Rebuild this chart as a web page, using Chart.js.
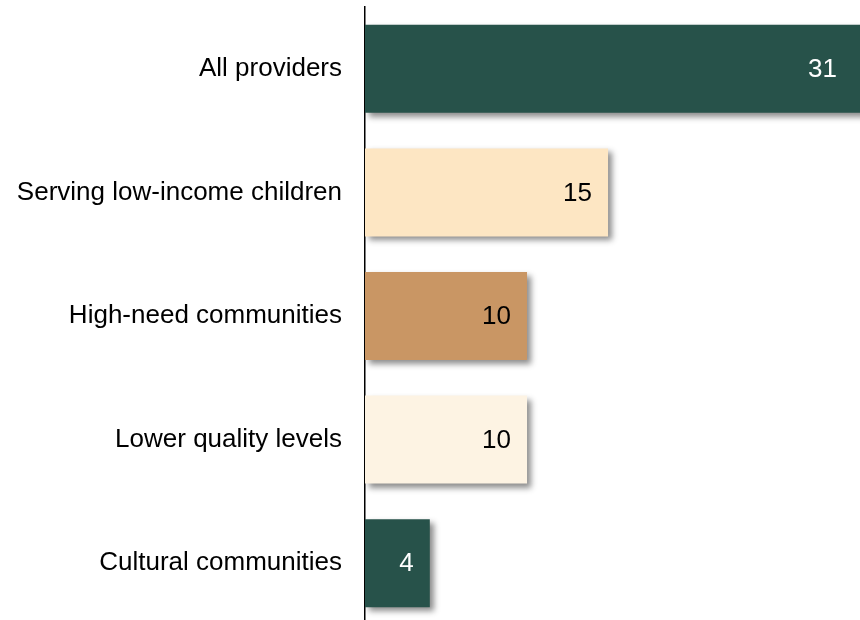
<!DOCTYPE html>
<html>
<head>
<meta charset="utf-8">
<script src="https://cdn.jsdelivr.net/npm/chart.js@4.4.1/dist/chart.umd.min.js"></script>
<style>
  html, body { margin: 0; padding: 0; background: #fff; overflow: hidden; }
  #wrap { width: 860px; height: 625px; position: relative; }
</style>
</head>
<body>
<div id="wrap"><canvas id="chart"></canvas></div>
<script>
const categories = [
  "All providers",
  "Serving low-income children",
  "High-need communities",
  "Lower quality levels",
  "Cultural communities"
];
const values = [31, 15, 10, 10, 4];
const barColors = ["#27524a", "#fde6c3", "#c99664", "#fdf3e3", "#27524a"];
const labelColors = ["#ffffff", "#000000", "#000000", "#000000", "#ffffff"];

const FONT = "'Liberation Sans', Arial, sans-serif";

// drop shadow behind the bars
const barShadow = {
  id: 'barShadow',
  beforeDatasetsDraw(chart) {
    const ctx = chart.ctx;
    ctx.save();
    ctx.shadowColor = 'rgba(0,0,0,0.45)';
    ctx.shadowBlur = 6;
    ctx.shadowOffsetX = 4;
    ctx.shadowOffsetY = 4;
  },
  afterDatasetsDraw(chart) {
    chart.ctx.restore();
  }
};

// value labels inside the bar end
const valueLabels = {
  id: 'valueLabels',
  afterDraw(chart) {
    const { ctx, chartArea } = chart;
    const meta = chart.getDatasetMeta(0);
    ctx.save();
    ctx.font = '26px ' + FONT;
    ctx.textAlign = 'right';
    ctx.textBaseline = 'middle';
    meta.data.forEach((bar, i) => {
      const end = Math.min(bar.x, chartArea.right - 7);
      ctx.fillStyle = labelColors[i];
      ctx.fillText(String(values[i]), end - 16, bar.y + 1);
    });
    ctx.restore();
  }
};

new Chart(document.getElementById('chart'), {
  type: 'bar',
  data: {
    labels: categories,
    datasets: [{
      data: values,
      backgroundColor: barColors,
      borderWidth: 0,
      barPercentage: 0.712,
      categoryPercentage: 1
    }]
  },
  options: {
    indexAxis: 'y',
    responsive: true,
    maintainAspectRatio: false,
    animation: false,
    layout: { padding: { top: 7, left: 0, right: 0, bottom: 0 } },
    plugins: {
      legend: { display: false },
      tooltip: { enabled: false }
    },
    scales: {
      x: {
        display: false,
        min: 0,
        max: 30.55
      },
      y: {
        afterFit(scale) {
          scale.width = 365;
          scale.paddingTop = 0;
          scale.paddingBottom = 0;
        },
        grid: { display: false, drawTicks: false },
        border: { display: true, color: '#000', width: 1.5 },
        ticks: {
          color: '#000',
          padding: 23,
          font: { size: 26, family: FONT }
        }
      }
    }
  },
  plugins: [barShadow, valueLabels]
});
</script>
</body>
</html>
